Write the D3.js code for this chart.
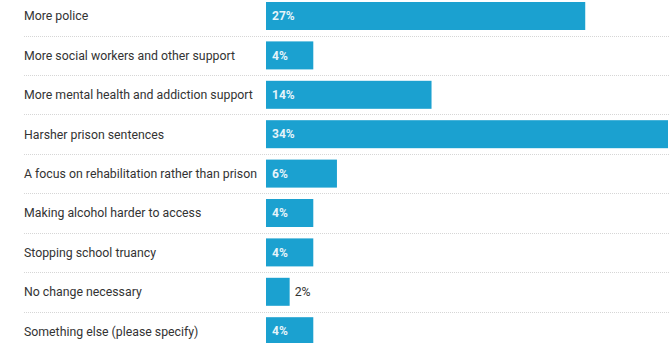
<!DOCTYPE html>
<html>
<head>
<meta charset="utf-8">
<script src="https://cdn.jsdelivr.net/npm/d3@7"></script>
<style>
  html, body { margin: 0; padding: 0; background: #fff; }
  svg { display: block; }
  text { font-family: Roboto, "Noto Sans", sans-serif; }
</style>
</head>
<body>
<svg id="chart" width="669" height="343"></svg>
<script>
// Survey answers and their shares (%)
const categories = [
  "More police",
  "More social workers and other support",
  "More mental health and addiction support",
  "Harsher prison sentences",
  "A focus on rehabilitation rather than prison",
  "Making alcohol harder to access",
  "Stopping school truancy",
  "No change necessary",
  "Something else (please specify)"
];
const values = [27, 4, 14, 34, 6, 4, 4, 2, 4];

(function () {
  const svg = d3.select("#chart");
  const barLeft = 266;
  const rowStep = 39.4;
  const barH = 28;
  const startY = 2 - (rowStep - barH) / 2;

  const x = d3.scaleLinear().domain([0, 34]).range([barLeft, 668]);
  const y = d3.scaleBand()
    .domain(categories)
    .range([startY, startY + rowStep * categories.length])
    .paddingInner((rowStep - barH) / rowStep)
    .paddingOuter((rowStep - barH) / rowStep / 2);

  const data = categories.map((c, i) => ({ cat: c, val: values[i] }));

  // dotted separators between rows
  svg.append("g").selectAll("line")
    .data(categories.slice(0, -1))
    .join("line")
    .attr("x1", 24).attr("x2", 669)
    .attr("y1", d => Math.round(y(d) + barH + (rowStep - barH) / 2) + 0.5)
    .attr("y2", d => Math.round(y(d) + barH + (rowStep - barH) / 2) + 0.5)
    .attr("stroke", "#d6d6d6")
    .attr("stroke-width", 1)
    .attr("stroke-dasharray", "1,1");

  // category labels
  svg.append("g").selectAll("text")
    .data(data)
    .join("text")
    .attr("x", 24)
    .attr("y", d => y(d.cat) + barH / 2)
    .attr("dy", "0.35em")
    .attr("font-size", 12.3)
    .attr("fill", "#333")
    .text(d => d.cat);

  // bars
  svg.append("g").selectAll("rect")
    .data(data)
    .join("rect")
    .attr("x", x(0))
    .attr("y", d => y(d.cat))
    .attr("width", d => x(d.val) - x(0))
    .attr("height", y.bandwidth())
    .attr("fill", "#1ba1d0");

  // value labels: inside the bar when it fits, otherwise just past its end
  svg.append("g").selectAll("text")
    .data(data)
    .join("text")
    .attr("x", d => d.val >= 3 ? x(0) + 6 : x(d.val) + 5)
    .attr("y", d => y(d.cat) + barH / 2)
    .attr("dy", "0.35em")
    .attr("font-size", d => d.val >= 3 ? 12 : 12.3)
    .attr("font-weight", d => d.val >= 3 ? 700 : 400)
    .attr("fill", d => d.val >= 3 ? "#e6f4fa" : "#333")
    .text(d => d.val + "%");
})();
</script>
</body>
</html>
